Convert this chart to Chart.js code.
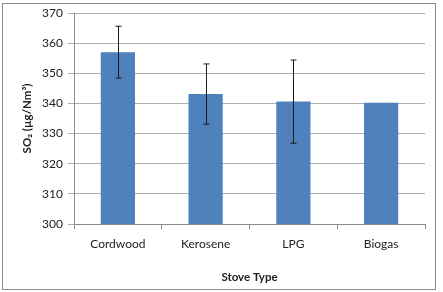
<!DOCTYPE html>
<html lang="en">
  <head>
    <meta charset="UTF-8" />
    <title>SO2 by stove type</title>
    <script src="https://cdn.jsdelivr.net/npm/chart.js@4.4.0/dist/chart.umd.min.js"></script>
    <style>
      body { margin: 0; background: #fff; }
      #wrap { width: 443px; height: 292px; }
    </style>
  </head>
  <body>
    <div id="wrap"><canvas id="myChart"></canvas></div>

    <script>
      const stoves = ["Cordwood", "Kerosene", "LPG", "Biogas"];
      const so2 = [357, 343.1, 340.6, 340.2];
      const so2Err = [8.6, 10, 13.8, 0];
      const yTicks = [300, 310, 320, 330, 340, 350, 360, 370];

      // whisker bars, drawn with the chart's own scales
      const errorBars = {
        id: "errorBars",
        afterDatasetsDraw(chart) {
          const ctx = chart.ctx;
          const x = chart.scales.x;
          const y = chart.scales.y;
          ctx.save();
          ctx.strokeStyle = "#1a1a1a";
          ctx.lineWidth = 1;
          so2.forEach((v, i) => {
            if (!so2Err[i]) return;
            const px = Math.round(x.getPixelForValue(i)) + 0.5;
            const top = y.getPixelForValue(v + so2Err[i]);
            const bot = y.getPixelForValue(v - so2Err[i]);
            ctx.beginPath();
            ctx.moveTo(px, top);
            ctx.lineTo(px, bot);
            ctx.moveTo(px - 3, top);
            ctx.lineTo(px + 3, top);
            ctx.moveTo(px - 3, bot);
            ctx.lineTo(px + 3, bot);
            ctx.stroke();
          });
          ctx.restore();
        },
      };

      const frame = {
        id: "frame",
        afterDraw(chart) {
          const ctx = chart.ctx;
          ctx.save();
          ctx.strokeStyle = "#8c8c8c";
          ctx.lineWidth = 1;
          ctx.strokeRect(2.5, 3.5, 433, 286);
          ctx.restore();
        },
      };

      const font = "Lato, 'Open Sans', sans-serif";

      new Chart(document.getElementById("myChart"), {
        type: "bar",
        data: {
          labels: stoves,
          datasets: [
            {
              data: so2,
              backgroundColor: "#4f81bd",
              borderWidth: 0,
              barPercentage: 0.78,
              categoryPercentage: 0.5,
            },
          ],
        },
        options: {
          responsive: true,
          maintainAspectRatio: false,
          animation: false,
          layout: { padding: { left: 0, top: 13, right: 18, bottom: 8 } },
          plugins: { legend: { display: false }, tooltip: { enabled: false } },
          scales: {
            x: {
              grid: {
                offset: true,
                drawOnChartArea: false,
                tickLength: 5,
                color: "#8c8c8c",
              },
              border: { color: "#8c8c8c" },
              ticks: { color: "#222", font: { family: font, size: 12 }, padding: 8 },
              title: {
                display: true,
                text: "Stove Type",
                color: "#222",
                font: { family: font, size: 11.5, weight: "bold" },
                padding: { top: 0, bottom: 0 },
              },
              afterFit: (s) => { s.height = 60; },
            },
            y: {
              min: 300,
              max: 370,
              afterBuildTicks: (s) => { s.ticks = yTicks.map((v) => ({ value: v })); },
              grid: { color: "#aeaeae", tickLength: 6 },
              border: { color: "#8c8c8c" },
              ticks: { color: "#222", font: { family: font, size: 12 }, padding: 5 },
              title: {
                display: true,
                text: "SO₂ (µg/Nm³)",
                color: "#222",
                font: { family: font, size: 11.5, weight: "bold" },
                padding: { top: 20, bottom: 0 },
              },
              afterFit: (s) => { s.width = 74; },
            },
          },
        },
        plugins: [errorBars, frame],
      });
    </script>
  </body>
</html>
